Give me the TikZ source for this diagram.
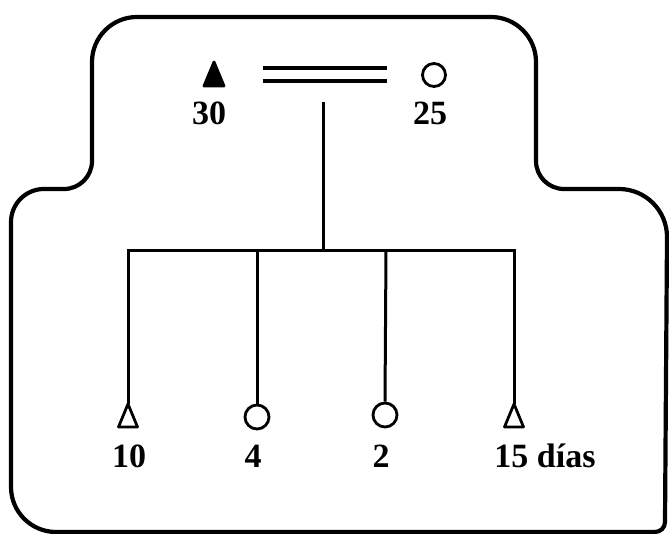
\documentclass[tikz,border=0pt]{standalone}
\usepackage{fontspec}
\setmainfont{Liberation Serif}
\begin{document}
\begin{tikzpicture}[x=1pt,y=1pt,
  outline/.style={line width=4.2pt, line join=round},
  stem/.style={line width=3pt},
  ring/.style={circle, draw, line width=2.8pt, minimum size=24pt, inner sep=0pt},
  tri/.style={line width=2.8pt, line join=round},
  lbl/.style={font=\fontsize{34}{38}\selectfont\bfseries, inner sep=0pt}]
\useasboundingbox (0,0) rectangle (669,534);
% outer frame
\draw[outline] (11,47) -- (11,312) arc[start angle=180, end angle=90, radius=33]
  -- (64,345) arc[start angle=-90, end angle=0, radius=28]
  -- (92,472) arc[start angle=180, end angle=90, radius=45]
  -- (491,517) arc[start angle=90, end angle=0, radius=45]
  -- (536,373) arc[start angle=180, end angle=270, radius=28]
  -- (619,345) arc[start angle=90, end angle=0, radius=48]
  -- (665,12) arc[start angle=0, end angle=-90, radius=10]
  -- (56,2) arc[start angle=270, end angle=180, radius=45] -- cycle;
% top symbols
\coordinate (ta) at (214,472);
\draw[tri, fill=black] (ta) -- ++(-10,-24) -- ++(20,0) -- cycle;
\node[lbl] (l30) at (209,421) {30};
\coordinate (d1a) at (263,466); \coordinate (d1b) at (387,466);
\coordinate (d2a) at (263,453); \coordinate (d2b) at (387,453);
\draw[line width=3.3pt] (d1a) -- (d1b);
\draw[line width=3.3pt] (d2a) -- (d2b);
\node[ring, minimum size=23pt] (c0) at (434,459) {};
\node[lbl] (l25) at (430,421) {25};
% tree
\coordinate (top) at (323,432);
\coordinate (junc) at (323,283);
\coordinate (b1) at (128,283);
\coordinate (b2) at (257,283);
\coordinate (b3) at (386,283);
\coordinate (b4) at (514,283);
\draw[stem] (top) -- (junc);
\draw[stem, line cap=rect] (b1) -- (b4);
% bottom symbols
\coordinate (a1) at (128,130);
\draw[tri] (a1) -- ++(-9.5,-23) -- ++(19,0) -- cycle;
\node[ring] (c2) at (257,117) {};
\node[ring] (c3) at (385,119) {};
\coordinate (a4) at (514,130);
\draw[tri] (a4) -- ++(-9.5,-23) -- ++(19,0) -- cycle;
\draw[stem] (b1) -- (a1);
\draw[stem] (b2) -- (c2.north);
\draw[stem] (b3) -- (c3.north);
\draw[stem] (b4) -- (a4);
% labels
\node[lbl] (l10) at (129,78) {10};
\node[lbl] (l4) at (253,78) {4};
\node[lbl] (l2) at (381,78) {2};
\node[lbl] (l15) at (545,78) {15 días};
\end{tikzpicture}
\end{document}
